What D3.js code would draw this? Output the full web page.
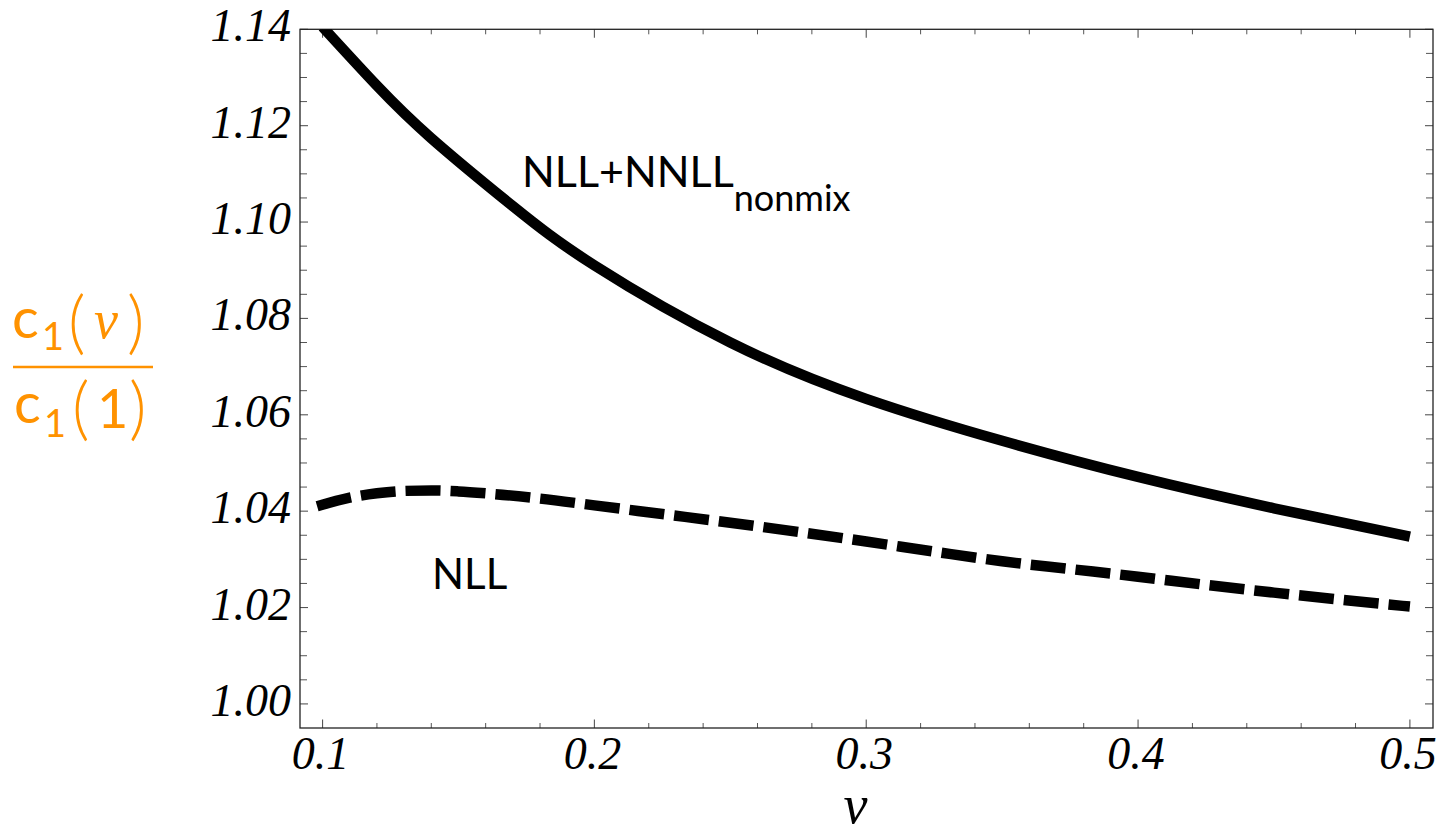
<!DOCTYPE html>
<html>
<head>
<meta charset="utf-8">
<script src="https://cdn.jsdelivr.net/npm/d3@7"></script>
<style>
  html, body { margin: 0; padding: 0; background: #fff; }
  svg { display: block; }
</style>
</head>
<body>
<svg id="chart" width="1445" height="835"></svg>
<script>
// ---- data ----
const nuSolid = [0.10, 0.12, 0.14, 0.17, 0.20, 0.25, 0.30, 0.35, 0.40, 0.45, 0.50];
const nllNnllNonmix = [1.1405, 1.1283, 1.1174, 1.1033, 1.0910, 1.0750, 1.0633, 1.0546, 1.0471, 1.0406, 1.0347];
const nuDashed = [0.098, 0.11, 0.12, 0.13, 0.14, 0.15, 0.16, 0.18, 0.20, 0.225, 0.25, 0.275, 0.30, 0.325, 0.35, 0.375, 0.40, 0.425, 0.45, 0.475, 0.50];
const nll = [1.0410, 1.0428, 1.0437, 1.0442, 1.0443, 1.0441, 1.0437, 1.0426, 1.0412, 1.0394, 1.0376, 1.0357, 1.0337, 1.0316, 1.0296, 1.0280, 1.0264, 1.0247, 1.0231, 1.0216, 1.0202];
const xMajorTicks = [0.1, 0.2, 0.3, 0.4, 0.5];
const xTickLabels = ["0.1", "0.2", "0.3", "0.4", "0.5"];
const yMajorTicks = [1.00, 1.02, 1.04, 1.06, 1.08, 1.10, 1.12, 1.14];
const yTickLabels = ["1.00", "1.02", "1.04", "1.06", "1.08", "1.10", "1.12", "1.14"];
const xDomain = [0.0917, 0.5085];
const yDomain = [0.995, 1.14];

// ---- layout ----
const svg = d3.select("#chart");
const L = 300, R = 1433, T = 29.3, B = 728;
const x = d3.scaleLinear().domain(xDomain).range([L, R]);
const y = d3.scaleLinear().domain(yDomain).range([B, T]);
const orange = "#FF9200";
const serif = "'Liberation Serif', 'DejaVu Serif', serif";
const sans = "Lato, 'Open Sans', 'Noto Sans', sans-serif";

svg.append("defs").append("clipPath").attr("id", "clip")
  .append("rect").attr("x", L).attr("y", T).attr("width", R - L).attr("height", B - T);

// minor ticks
const xMinor = d3.range(0.1, 0.5001, 0.02).filter(v => !xMajorTicks.some(m => Math.abs(m - v) < 1e-6));
const yMinor = d3.range(1.0, 1.1401, 0.005).filter(v => !yMajorTicks.some(m => Math.abs(m - v) < 1e-6));

const tickColor = "#555";
// bottom ticks
svg.append("g").attr("transform", `translate(0,${B})`).call(g => {
  g.append("g").selectAll("line").data(xMajorTicks).join("line")
    .attr("x1", d => x(d)).attr("x2", d => x(d)).attr("y1", 0).attr("y2", -8.5)
    .attr("stroke", tickColor).attr("stroke-width", 1.1);
  g.append("g").selectAll("line").data(xMinor).join("line")
    .attr("x1", d => x(d)).attr("x2", d => x(d)).attr("y1", 0).attr("y2", -5)
    .attr("stroke", tickColor).attr("stroke-width", 1);
});
// top ticks
svg.append("g").attr("transform", `translate(0,${T})`).call(g => {
  g.append("g").selectAll("line").data(xMajorTicks).join("line")
    .attr("x1", d => x(d)).attr("x2", d => x(d)).attr("y1", 0).attr("y2", 8.5)
    .attr("stroke", tickColor).attr("stroke-width", 1.1);
  g.append("g").selectAll("line").data(xMinor).join("line")
    .attr("x1", d => x(d)).attr("x2", d => x(d)).attr("y1", 0).attr("y2", 5)
    .attr("stroke", tickColor).attr("stroke-width", 1);
});
// left / right ticks
[[L, 1], [R, -1]].forEach(([px, dir]) => {
  const g = svg.append("g");
  g.selectAll("line.maj").data(yMajorTicks).join("line").attr("class", "maj")
    .attr("x1", px).attr("x2", px + dir * 8).attr("y1", d => y(d)).attr("y2", d => y(d))
    .attr("stroke", tickColor).attr("stroke-width", 1.1);
  g.selectAll("line.min").data(yMinor).join("line").attr("class", "min")
    .attr("x1", px).attr("x2", px + dir * 7).attr("y1", d => y(d)).attr("y2", d => y(d))
    .attr("stroke", tickColor).attr("stroke-width", 1);
});

// frame
svg.append("rect").attr("x", L).attr("y", T).attr("width", R - L).attr("height", B - T)
  .attr("fill", "none").attr("stroke", "#222").attr("stroke-width", 1.3);

// tick labels
svg.append("g").selectAll("text").data(xMajorTicks).join("text")
  .attr("x", d => x(d) - 2).attr("y", B + 41)
  .attr("text-anchor", "middle")
  .attr("font-family", serif).attr("font-style", "italic").attr("font-size", 46)
  .text((d, i) => xTickLabels[i]);
svg.append("g").selectAll("text").data(yMajorTicks).join("text")
  .attr("x", L - 9).attr("y", d => y(d) + 12)
  .attr("text-anchor", "end")
  .attr("font-family", serif).attr("font-style", "italic").attr("font-size", 46)
  .text((d, i) => yTickLabels[i]);

// axis label nu
svg.append("text").attr("x", (L + R) / 2 - 11).attr("y", 823)
  .attr("text-anchor", "middle")
  .attr("font-family", serif).attr("font-style", "italic").attr("font-size", 54)
  .text("ν");

// y label fraction
const yl = svg.append("g").attr("fill", orange);
function part(txt, px, py, size, opts = {}) {
  yl.append("text").attr("x", px).attr("y", py)
    .attr("font-family", opts.serif ? serif : sans)
    .attr("font-style", opts.italic ? "italic" : "normal")
    .attr("font-weight", opts.weight || 400)
    .attr("font-size", size).text(txt);
}
part("c", 12, 338, 56);
part("1", 42, 350, 38);
part("(", 68, 346, 68, {weight: 300});
part("ν", 94, 338, 54, {serif: true, italic: true});
part(")", 127, 346, 68, {weight: 300});
yl.append("line").attr("x1", 13).attr("x2", 153).attr("y1", 367).attr("y2", 367)
  .attr("stroke", orange).attr("stroke-width", 2.5);
part("c", 14, 423, 56);
part("1", 44, 437, 38);
part("(", 72, 432, 68, {weight: 300});
part("1", 97, 428, 54);
part(")", 129, 432, 68, {weight: 300});

// curves
const plot = svg.append("g").attr("clip-path", "url(#clip)");
const line = d3.line().x(d => x(d[0])).y(d => y(d[1])).curve(d3.curveNatural);
plot.append("path").datum(d3.zip(nuSolid, nllNnllNonmix))
  .attr("d", line).attr("fill", "none").attr("stroke", "#000").attr("stroke-width", 10.5);
plot.append("path").datum(d3.zip(nuDashed, nll))
  .attr("d", line.curve(d3.curveMonotoneX)).attr("fill", "none").attr("stroke", "#000").attr("stroke-width", 10.5)
  .attr("stroke-dasharray", "35,10");

// curve labels
const lab1 = svg.append("text").attr("x", 522).attr("y", 187)
  .attr("font-family", sans).attr("font-size", 43).attr("fill", "#000");
lab1.append("tspan").text("NLL+NNLL");
lab1.append("tspan").attr("dy", 24).attr("font-size", 36).text("nonmix");
svg.append("text").attr("x", 432).attr("y", 589)
  .attr("font-family", sans).attr("font-size", 42).attr("fill", "#000").text("NLL");
</script>
</body>
</html>
